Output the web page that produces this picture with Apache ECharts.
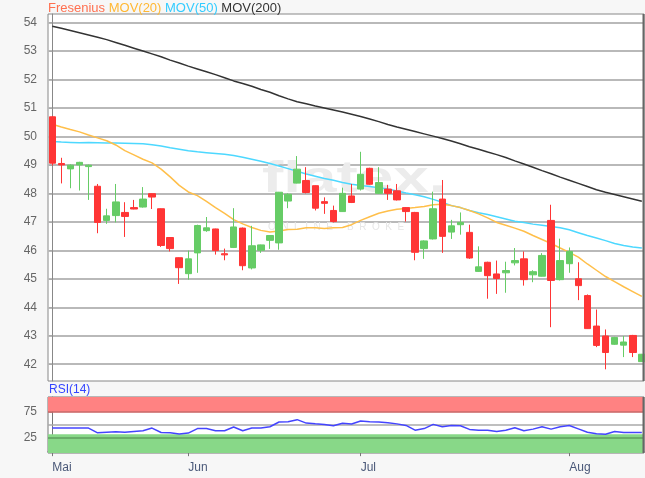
<!DOCTYPE html>
<html><head><meta charset="utf-8">
<script src="https://cdn.jsdelivr.net/npm/echarts@6/dist/echarts.min.js"></script>
<style>html,body{margin:0;padding:0;background:#f7f7f7}#c{width:645px;height:478px}</style>
</head><body><div id="c"></div>
<script>
const monthTickIndex = [0, 15, 34, 57];
const monthLabels = ['Mai', 'Jun', 'Jul', 'Aug'];
const priceTicks = [42, 43, 44, 45, 46, 47, 48, 49, 50, 51, 52, 53, 54];
const rsiTicks = [25, 75];

const open = [50.69,49.05,48.86,49.00,48.94,48.25,47.05,47.22,47.33,47.50,47.52,47.99,47.46,46.45,45.74,45.18,45.91,46.69,46.75,45.88,46.10,46.78,45.38,46.00,46.35,46.26,47.73,48.36,48.45,48.27,47.71,47.40,47.36,47.91,48.15,48.88,48.00,48.15,48.09,47.50,47.33,46.06,46.40,47.80,46.64,46.90,46.63,45.26,45.58,45.17,45.21,45.56,45.70,45.14,45.09,47.05,44.97,45.53,45.00,44.41,43.34,42.99,42.70,42.67,43.01,42.09];
const close = [49.06,49.00,48.99,49.09,48.99,46.98,47.21,47.70,47.19,47.45,47.80,47.87,46.17,46.06,45.39,45.70,46.87,46.79,45.99,45.84,46.82,45.46,46.16,46.19,46.52,48.04,47.97,48.85,48.03,47.48,47.65,47.01,48.00,47.68,48.67,48.32,48.38,48.00,47.77,47.36,45.93,46.33,47.46,46.49,46.86,46.98,45.73,45.42,45.11,45.01,45.29,45.64,44.97,45.25,45.82,44.94,45.64,45.96,44.76,43.25,42.66,42.41,42.94,42.78,42.41,42.35];
const high = [50.72,49.25,49.02,49.11,49.01,48.33,47.46,48.33,47.69,47.77,48.22,48.00,47.47,46.46,45.75,45.99,46.90,47.17,46.76,46.06,47.48,46.80,46.86,46.20,46.53,48.05,48.00,49.31,48.92,48.28,47.86,47.57,48.20,48.33,49.46,48.90,48.92,48.30,48.33,47.52,47.35,46.35,48.06,48.47,47.07,47.33,46.90,46.14,45.60,45.64,45.60,46.08,45.96,45.30,45.90,47.60,46.41,46.10,45.58,44.45,43.92,43.22,42.96,42.99,43.03,42.36];
const low = [48.98,48.35,48.18,48.10,47.77,46.60,46.93,46.98,46.47,47.44,47.50,47.45,46.12,45.96,44.82,44.97,45.21,46.65,45.85,45.65,46.08,45.30,45.33,45.91,46.05,46.02,47.48,48.35,48.00,47.40,47.28,46.98,47.35,47.66,48.10,48.30,47.98,47.77,47.75,47.01,45.65,45.70,46.38,45.91,46.40,46.55,45.70,45.24,44.30,44.47,44.51,45.47,44.76,44.88,45.08,43.30,44.94,45.21,44.25,43.24,42.60,41.82,42.68,42.25,42.25,42.08];

const ma20 = [50.43,50.33,50.24,50.16,50.05,49.95,49.85,49.7,49.5,49.35,49.2,49.07,48.85,48.58,48.28,48.05,47.92,47.72,47.5,47.3,47.08,46.93,46.8,46.7,46.64,46.68,46.73,46.74,46.79,46.79,46.77,46.79,46.8,46.9,47.05,47.18,47.3,47.38,47.44,47.47,47.5,47.54,47.6,47.62,47.57,47.5,47.4,47.28,47.14,46.98,46.88,46.78,46.67,46.52,46.38,46.24,46.08,45.93,45.76,45.52,45.3,45.08,44.9,44.72,44.55,44.38];
const ma50 = [49.82,49.8,49.79,49.78,49.79,49.78,49.77,49.77,49.76,49.75,49.74,49.71,49.66,49.6,49.55,49.5,49.46,49.43,49.4,49.37,49.33,49.27,49.2,49.13,49.05,48.96,48.87,48.78,48.68,48.6,48.52,48.46,48.38,48.32,48.28,48.24,48.2,48.15,48.08,48.01,47.95,47.88,47.79,47.69,47.57,47.5,47.4,47.32,47.26,47.18,47.1,47.02,46.98,46.92,46.88,46.84,46.79,46.72,46.62,46.52,46.43,46.34,46.24,46.17,46.12,46.08];
const ma200 = [53.87,53.8,53.72,53.64,53.56,53.48,53.4,53.3,53.2,53.1,53.0,52.9,52.8,52.68,52.58,52.47,52.37,52.27,52.17,52.06,51.95,51.86,51.76,51.65,51.55,51.43,51.32,51.22,51.15,51.07,51.0,50.93,50.86,50.78,50.7,50.61,50.52,50.42,50.33,50.25,50.17,50.09,50.01,49.93,49.84,49.74,49.64,49.55,49.45,49.36,49.26,49.14,49.03,48.92,48.8,48.69,48.57,48.46,48.35,48.24,48.13,48.04,47.96,47.88,47.8,47.72];
const rsi = [44,44,44,44,44,35,36,37,36,37.5,39,44,35.5,35,32.5,34.5,43,43,39,39,46,39,44,44,46.5,55.5,56,60,53.5,52,51,48.5,53,51.6,57.5,56,55.5,54,52,49,40,43,51,46.5,49,48.5,41.5,40,40,37.5,40,44.5,39,42,46.5,42,46.5,49,42.5,36,33,32.4,37.5,35.5,35.5,35.5];

const candles = open.map((o, i) => [i, o, close[i], low[i], high[i]]);
const toXY = arr => arr.map((v, i) => [i, v]);

const FONT = 'Liberation Sans, Arial, sans-serif';
const chart = echarts.init(document.getElementById('c'), null, {renderer: 'canvas'});
chart.setOption({
  animation: false,
  backgroundColor: '#f7f7f7',
  textStyle: {fontFamily: FONT},
  title: {
    left: 48, top: 1, padding: 0,
    text: '{a|Fresenius} {b|MOV(20)} {c|MOV(50)} {d|MOV(200)}',
    textStyle: {
      fontSize: 13, fontWeight: 'normal', fontFamily: FONT, lineHeight: 15,
      rich: {
        a: {color: '#ff7050', fontSize: 13, fontFamily: FONT},
        b: {color: '#ffb833', fontSize: 13, fontFamily: FONT},
        c: {color: '#33ccff', fontSize: 13, fontFamily: FONT},
        d: {color: '#333333', fontSize: 13, fontFamily: FONT}
      }
    }
  },
  graphic: [
    {type: 'text', left: 262, top: 158, z: 1, silent: true, scaleX: 1.45,
     style: {text: 'flatex.', font: 'bold 44px ' + FONT, fill: '#ececec'}},
    {type: 'text', left: 268, top: 222, z: 1, silent: true,
     style: {text: 'O  N  L  I  N  E     B  R  O  K  E  R', font: '10px ' + FONT, fill: '#e6e6e6'}},
    {type: 'text', left: 49, top: 384, z: 5, silent: true,
     style: {text: 'RSI(14)', font: '12px ' + FONT, fill: '#3344ff'}},
    {type: 'line', z: 10, silent: true, shape: {x1: 643.5, y1: 14, x2: 643.5, y2: 381}, style: {stroke: '#666', lineWidth: 2}},
    {type: 'line', z: 10, silent: true, shape: {x1: 643.5, y1: 397, x2: 643.5, y2: 453}, style: {stroke: '#666', lineWidth: 2}}
  ],
  grid: [
    {left: 48, top: 14, width: 596, height: 367, show: true, backgroundColor: '#ffffff', borderColor: '#888', borderWidth: 1},
    {left: 48, top: 397, width: 596, height: 56, show: true, backgroundColor: '#ffffff', borderColor: '#777', borderWidth: 1}
  ],
  xAxis: [
    {type: 'value', gridIndex: 0, min: -0.47, max: 65.24, show: false},
    {type: 'value', gridIndex: 1, min: -0.47, max: 65.24,
     axisLine: {show: true, lineStyle: {color: '#777'}},
     axisTick: {show: true, customValues: monthTickIndex, length: 5, lineStyle: {color: '#777'}},
     axisLabel: {customValues: monthTickIndex, formatter: v => monthLabels[monthTickIndex.indexOf(Math.round(v))] || '',
                 align: 'left', color: '#4a5878', fontSize: 12, margin: 9, fontFamily: FONT},
     splitLine: {show: false}}
  ],
  yAxis: [
    {type: 'value', gridIndex: 0, min: 41.41, max: 54.3,
     axisLine: {show: true, lineStyle: {color: '#888'}},
     axisTick: {show: true, customValues: priceTicks, length: 3, lineStyle: {color: '#aaa'}},
     axisLabel: {customValues: priceTicks, color: '#666', fontSize: 12, margin: 11, fontFamily: FONT},
     splitLine: {show: true, lineStyle: {color: '#b9b9b9', width: 2}}},
    {type: 'value', gridIndex: 1, min: -3.5, max: 103.2,
     axisLine: {show: true, lineStyle: {color: '#777'}},
     axisTick: {show: true, customValues: rsiTicks, length: 3, lineStyle: {color: '#aaa'}},
     axisLabel: {customValues: rsiTicks, color: '#666', fontSize: 12, margin: 11, fontFamily: FONT},
     splitLine: {show: false}}
  ],
  series: [
    {type: 'line', name: 'MOV(200)', xAxisIndex: 0, yAxisIndex: 0, data: toXY(ma200), showSymbol: false, symbol: 'none',
     lineStyle: {color: '#333333', width: 1.5}, z: 3},
    {type: 'line', name: 'MOV(50)', xAxisIndex: 0, yAxisIndex: 0, data: toXY(ma50), showSymbol: false, symbol: 'none',
     lineStyle: {color: '#4dd8ff', width: 1.5}, z: 3},
    {type: 'line', name: 'MOV(20)', xAxisIndex: 0, yAxisIndex: 0, data: toXY(ma20), showSymbol: false, symbol: 'none',
     lineStyle: {color: '#ffbf4a', width: 1.5}, z: 3},
    {type: 'candlestick', name: 'Fresenius', xAxisIndex: 0, yAxisIndex: 0, data: candles, barWidth: 7, z: 4,
     encode: {x: 0, y: [1, 2, 3, 4]},
     itemStyle: {color: '#66cc66', color0: '#ff3535', borderColor: '#66cc66', borderColor0: '#ff3535', borderWidth: 1}},
    {type: 'line', name: 'RSI(14)', xAxisIndex: 1, yAxisIndex: 1, data: toXY(rsi), showSymbol: false, symbol: 'none',
     lineStyle: {color: '#4444ff', width: 1.5}, z: 5,
     markArea: {silent: true, data: [
       [{yAxis: 75, itemStyle: {color: '#ff8282'}}, {yAxis: 103.2}],
       [{yAxis: -3.5, itemStyle: {color: '#88d888'}}, {yAxis: 32}]
     ]},
     markLine: {silent: true, symbol: 'none', label: {show: false}, data: [
       {yAxis: 75, lineStyle: {color: '#c86060', width: 1.5, type: 'solid'}},
       {yAxis: 50, lineStyle: {color: '#aaaaaa', width: 1.5, type: 'solid'}},
       {yAxis: 25, lineStyle: {color: '#5f9f5f', width: 1.5, type: 'solid'}}
     ]}}
  ]
});
</script>
</body></html>
